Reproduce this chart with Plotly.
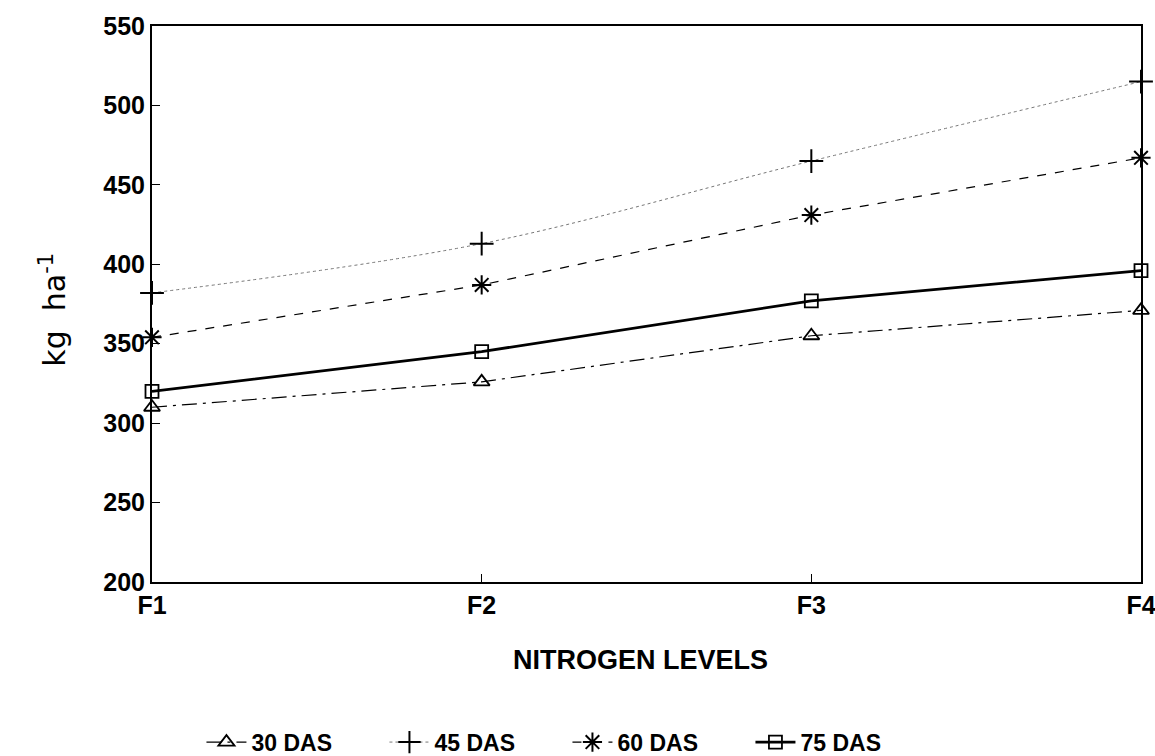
import plotly.graph_objects as go

# Nitrogen levels on the x axis
levels = ["F1", "F2", "F3", "F4"]
level_pos = [1, 2, 3, 4]

# Dry matter (kg ha-1) at each sampling stage
das30 = [310, 326, 355, 371]
das45 = [382, 413, 465, 515]
das60 = [354, 387, 431, 467]
das75 = [320, 345, 377, 396]

y_ticks = [200, 250, 300, 350, 400, 450, 500, 550]

series = [
    ("30 DAS", das30, dict(color="black", width=1.2, dash="longdashdot"),
     dict(symbol="triangle-up-open", size=14, color="black", line=dict(width=1.8))),
    ("45 DAS", das45, dict(color="#777777", width=1, dash="dot", shape="spline"),
     dict(symbol="cross-thin", size=17, color="black", line=dict(width=2, color="black"))),
    ("60 DAS", das60, dict(color="black", width=1.2, dash="dash"),
     dict(symbol="asterisk", size=16, color="black", line=dict(width=2, color="black"))),
    ("75 DAS", das75, dict(color="black", width=2.8),
     dict(symbol="square-open", size=13, color="black", line=dict(width=1.8))),
]

fig = go.Figure()
for name, vals, line, marker in series:
    fig.add_trace(go.Scatter(
        x=level_pos, y=vals, name=name, mode="lines+markers",
        line=line, marker=marker, cliponaxis=False,
    ))

bold = dict(family="Liberation Sans", color="black", weight="bold")

fig.update_layout(
    width=1155, height=756,
    margin=dict(l=152, r=14, t=26, b=174, autoexpand=False),
    paper_bgcolor="white", plot_bgcolor="white",
    showlegend=True,
    legend=dict(
        orientation="h", x=0.05, xanchor="left", y=-0.288, yanchor="middle",
        font=dict(bold, size=23),
        itemwidth=40, entrywidth=128, traceorder="normal",
        bgcolor="rgba(0,0,0,0)",
    ),
    xaxis=dict(
        range=[1, 4], tickvals=level_pos, ticktext=levels,
        showline=True, linecolor="black", linewidth=1.5, mirror=True,
        ticks="inside", ticklen=8, tickcolor="black",
        showgrid=False, zeroline=False,
        ticklabeloverflow="allow",
        tickfont=dict(bold, size=25),
    ),
    yaxis=dict(
        range=[200, 550], tickvals=y_ticks,
        showline=True, linecolor="black", linewidth=2, mirror=True,
        ticks="inside", ticklen=8, tickcolor="black",
        showgrid=False, zeroline=False,
        ticklabeloverflow="allow",
        tickfont=dict(bold, size=25),
    ),
    annotations=[
        dict(
            text="kg  ha<sup>-1</sup>", textangle=-90,
            xref="paper", yref="paper", x=-0.1, y=0.49,
            xanchor="center", yanchor="middle", showarrow=False,
            font=dict(family="DejaVu Sans", size=30, color="black"),
        ),
        dict(
            text="NITROGEN LEVELS",
            xref="paper", yref="paper", x=0.494, y=-0.14,
            xanchor="center", yanchor="middle", showarrow=False,
            font=dict(bold, size=27),
        ),
    ],
)

fig.write_html("out.html")
